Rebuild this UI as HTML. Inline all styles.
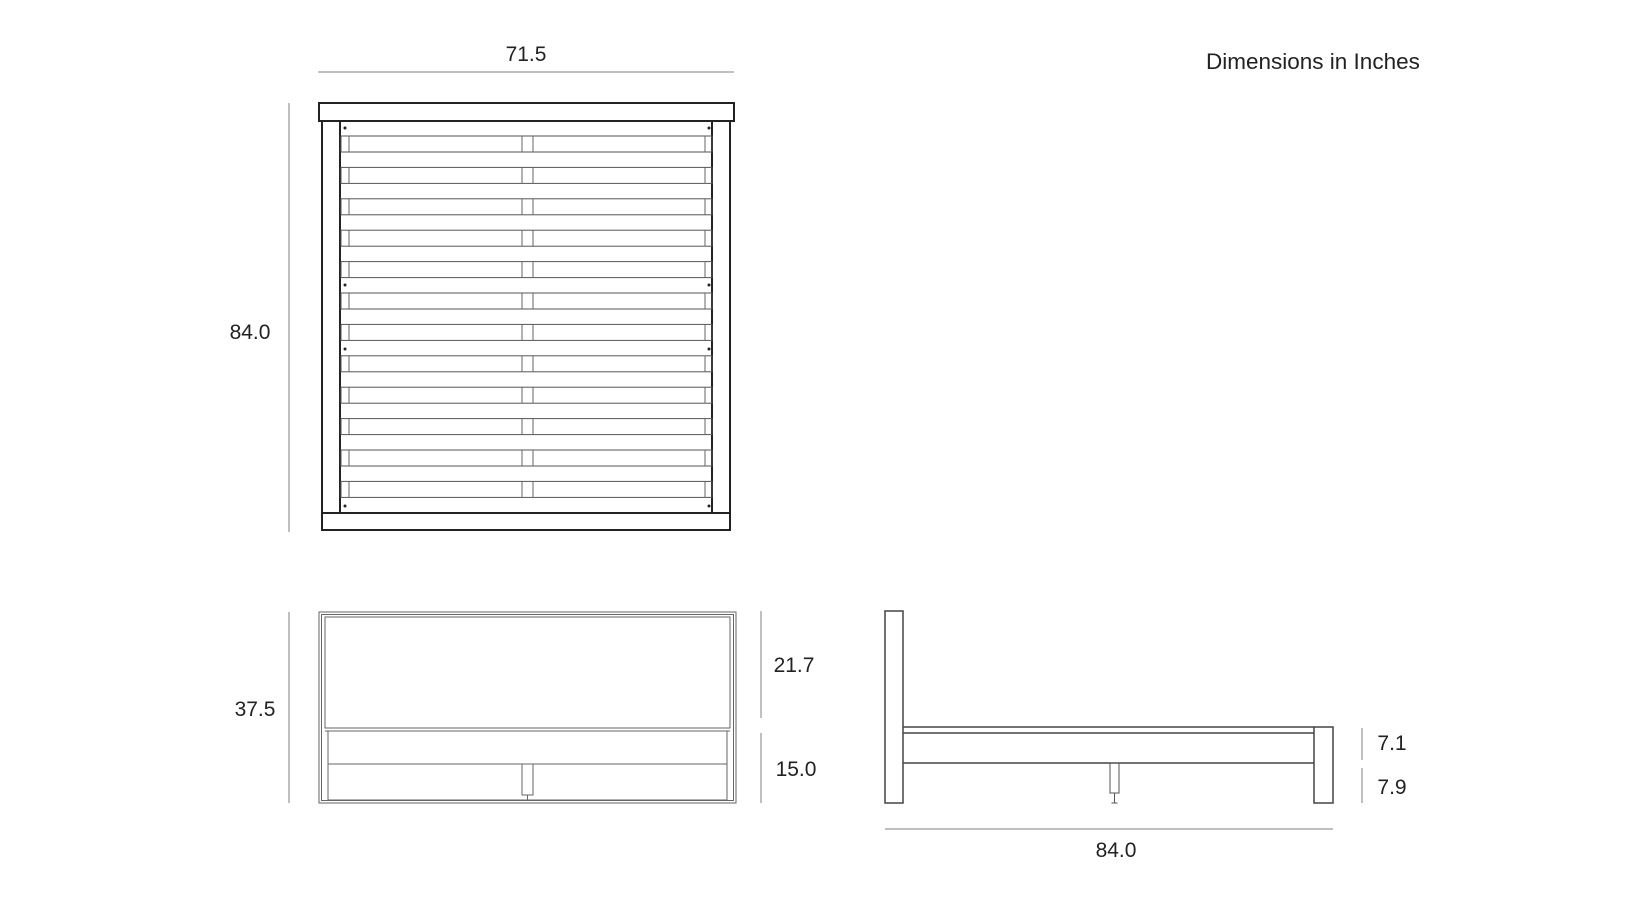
<!DOCTYPE html>
<html><head><meta charset="utf-8"><style>
html,body{margin:0;padding:0;background:#fff}
svg{display:block}
text{font-family:"Liberation Sans",sans-serif;font-size:21px;fill:#222}
</style></head><body>
<svg width="1627" height="915" viewBox="0 0 1627 915" xmlns="http://www.w3.org/2000/svg">
<rect width="1627" height="915" fill="#fff"/>
<text x="1206" y="69" style="font-size:22.5px">Dimensions in Inches</text>
<text x="526" y="61" text-anchor="middle">71.5</text>
<line x1="318" y1="72" x2="734" y2="72" stroke="#aaa" stroke-width="1.5"/>
<line x1="289" y1="103" x2="289" y2="532" stroke="#aaa" stroke-width="1.5"/>
<text x="250" y="339" text-anchor="middle">84.0</text>

<!-- top view -->
<g fill="none" stroke="#222" stroke-width="2">
<rect x="319" y="103" width="415" height="18"/>
<path d="M322 121V513M340 121V513M712 121V513M730 121V513"/>
<rect x="322" y="513" width="408" height="17"/>
</g>
<g stroke="#555" stroke-width="1" fill="none">
<rect x="341" y="136" width="371" height="16"/>
<rect x="341" y="167.4" width="371" height="16"/>
<rect x="341" y="198.8" width="371" height="16"/>
<rect x="341" y="230.2" width="371" height="16"/>
<rect x="341" y="261.6" width="371" height="16"/>
<rect x="341" y="293" width="371" height="16"/>
<rect x="341" y="324.4" width="371" height="16"/>
<rect x="341" y="355.8" width="371" height="16"/>
<rect x="341" y="387.2" width="371" height="16"/>
<rect x="341" y="418.6" width="371" height="16"/>
<rect x="341" y="450" width="371" height="16"/>
<rect x="341" y="481.4" width="371" height="16"/>
</g>
<g stroke="#666" stroke-width="1">
<path d="M349 136V152M522 136V152M533 136V152M705 136V152
M349 167.4V183.4M522 167.4V183.4M533 167.4V183.4M705 167.4V183.4
M349 198.8V214.8M522 198.8V214.8M533 198.8V214.8M705 198.8V214.8
M349 230.2V246.2M522 230.2V246.2M533 230.2V246.2M705 230.2V246.2
M349 261.6V277.6M522 261.6V277.6M533 261.6V277.6M705 261.6V277.6
M349 293V309M522 293V309M533 293V309M705 293V309
M349 324.4V340.4M522 324.4V340.4M533 324.4V340.4M705 324.4V340.4
M349 355.8V371.8M522 355.8V371.8M533 355.8V371.8M705 355.8V371.8
M349 387.2V403.2M522 387.2V403.2M533 387.2V403.2M705 387.2V403.2
M349 418.6V434.6M522 418.6V434.6M533 418.6V434.6M705 418.6V434.6
M349 450V466M522 450V466M533 450V466M705 450V466
M349 481.4V497.4M522 481.4V497.4M533 481.4V497.4M705 481.4V497.4"/>
</g>
<g fill="#222">
<circle cx="345" cy="128" r="1.5"/><circle cx="709" cy="128" r="1.5"/>
<circle cx="345" cy="285" r="1.5"/><circle cx="709" cy="285" r="1.5"/>
<circle cx="345" cy="349" r="1.5"/><circle cx="709" cy="349" r="1.5"/>
<circle cx="345" cy="506" r="1.5"/><circle cx="709" cy="506" r="1.5"/>
</g>

<!-- front view -->
<line x1="289" y1="612" x2="289" y2="803" stroke="#aaa" stroke-width="1.5"/>
<text x="255" y="716" text-anchor="middle">37.5</text>
<g fill="none" stroke="#666" stroke-width="1">
<rect x="319" y="612" width="417" height="191"/>
<rect x="321.5" y="614.5" width="412" height="186"/>
<rect x="325" y="617" width="405" height="111"/>
<line x1="325" y1="731" x2="730" y2="731"/>
<line x1="328" y1="731" x2="328" y2="800"/>
<line x1="727" y1="731" x2="727" y2="800"/>
<line x1="328" y1="764" x2="727" y2="764"/>
<line x1="328" y1="800" x2="727" y2="800"/>
<rect x="522" y="764" width="11" height="31"/>
<line x1="527.5" y1="795" x2="527.5" y2="801"/>
</g>
<line x1="761" y1="611" x2="761" y2="718" stroke="#aaa" stroke-width="1.5"/>
<line x1="761" y1="733" x2="761" y2="803" stroke="#aaa" stroke-width="1.5"/>
<text x="794" y="672" text-anchor="middle">21.7</text>
<text x="796" y="776" text-anchor="middle">15.0</text>

<!-- side view -->
<g fill="none" stroke="#444" stroke-width="1.5">
<rect x="885" y="611" width="18" height="192"/>
<rect x="1314" y="727" width="19" height="76"/>
<line x1="903" y1="727" x2="1314" y2="727"/>
<line x1="903" y1="733" x2="1314" y2="733"/>
<line x1="903" y1="763" x2="1314" y2="763"/>
</g>
<g fill="none" stroke="#555" stroke-width="1">
<rect x="1110" y="763" width="9" height="30"/>
<line x1="1114.5" y1="793" x2="1114.5" y2="803"/>
<line x1="1111.5" y1="803" x2="1117.5" y2="803"/>
</g>
<line x1="885" y1="829" x2="1333" y2="829" stroke="#aaa" stroke-width="1.5"/>
<text x="1116" y="857" text-anchor="middle">84.0</text>
<line x1="1362" y1="728" x2="1362" y2="760" stroke="#aaa" stroke-width="1.5"/>
<line x1="1362" y1="768" x2="1362" y2="803" stroke="#aaa" stroke-width="1.5"/>
<text x="1392" y="750" text-anchor="middle">7.1</text>
<text x="1392" y="794" text-anchor="middle">7.9</text>
</svg>
</body></html>
